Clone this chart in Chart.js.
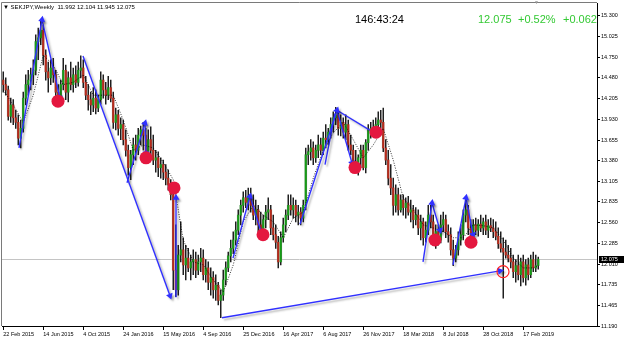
<!DOCTYPE html>
<html>
<head>
<meta charset="utf-8">
<script src="https://cdn.jsdelivr.net/npm/chart.js@4"></script>
<style>
  html, body { margin: 0; padding: 0; background: #fff; }
  #wrap { position: relative; width: 625px; height: 340px; overflow: hidden; }
  #c { position: absolute; left: 0; top: 0; }
  .t { position: absolute; font-family: "Liberation Sans", Arial, sans-serif; white-space: pre; line-height: 1; }
</style>
</head>
<body>
<div id="wrap">
  <canvas id="c" width="625" height="340"></canvas>
  <div class="t" style="left:3px;top:4px;font-size:6px;color:#000;">▼ SEKJPY,Weekly  11.992 12.104 11.945 12.075</div>
  <div class="t" style="left:534px;top:0px;font-size:5px;color:#999;">▼</div>
  <div class="t" style="left:355px;top:14px;font-size:11px;color:#000;">146:43:24</div>
  <div class="t" style="left:478px;top:14px;font-size:11px;color:#33c933;">12.075</div>
  <div class="t" style="left:518px;top:14px;font-size:11px;color:#33c933;">+0.52%</div>
  <div class="t" style="left:563px;top:14px;font-size:11px;color:#33c933;">+0.062</div>
</div>
<script>
// weekly SEKJPY candles, 22 Feb 2015 onwards (one entry per week)
const opens = [
  14.45,14.39,14.32,13.97,14.12,13.95,13.89,13.68,13.81,14.21,
  14.39,14.45,14.52,14.58,14.96,15.01,15.11,14.78,14.56,14.48,
  14.61,14.52,14.29,14.21,14.39,14.58,14.29,14.48,14.39,14.52,
  14.42,14.58,14.61,14.42,14.25,14.19,14.12,14.21,14.08,14.19,
  14.45,14.32,14.25,14.35,14.21,13.89,13.99,13.81,13.86,13.66,
  13.52,13.29,13.46,13.59,13.52,13.72,13.79,13.72,13.46,13.66,
  13.52,13.39,13.42,13.29,13.33,13.23,13.15,13.06,12.93,11.93,
  11.67,12.13,12.20,12.00,12.09,11.96,12.04,12.07,11.93,12.04,
  12.09,11.87,11.96,11.77,11.83,11.67,11.73,11.53,11.60,11.80,
  11.96,12.12,12.22,12.33,12.46,12.66,12.79,12.89,12.83,12.91,
  12.79,12.66,12.73,12.53,12.46,12.60,12.70,12.73,12.49,12.40,
  12.30,12.04,12.36,12.53,12.66,12.79,12.73,12.79,12.66,12.70,
  12.62,12.79,13.46,13.50,13.55,13.42,13.52,13.59,13.52,13.68,
  13.66,13.76,13.86,13.95,13.99,13.81,13.89,13.76,13.86,13.59,
  13.52,13.36,13.33,13.42,13.52,13.29,13.62,13.79,13.81,13.79,
  13.86,13.92,13.89,13.55,13.39,13.15,13.02,12.79,12.93,12.73,
  12.86,12.76,12.82,12.70,12.73,12.60,12.66,12.49,12.57,12.36,
  12.46,12.66,12.57,12.36,12.44,12.33,12.53,12.60,12.44,12.40,
  12.20,12.09,12.20,12.33,12.40,12.66,12.73,12.49,12.36,12.53,
  12.46,12.54,12.49,12.57,12.46,12.52,12.49,12.44,12.38,12.28,
  12.22,12.17,12.13,12.09,12.04,11.91,11.99,11.87,12.04,11.83,
  12.00,11.87,12.07,11.96,11.992
];
const highs = [
  14.56,14.48,14.37,14.21,14.19,14.05,13.99,13.92,14.29,14.52,
  14.58,14.61,14.72,15.05,15.14,15.25,15.18,14.85,14.69,14.72,
  14.74,14.58,14.39,14.45,14.74,14.65,14.56,14.69,14.61,14.64,
  14.69,14.77,14.72,14.50,14.39,14.29,14.35,14.32,14.25,14.56,
  14.52,14.42,14.50,14.45,14.29,14.08,14.05,13.95,13.92,13.79,
  13.59,13.52,13.68,13.72,13.81,13.84,13.89,13.81,13.79,13.83,
  13.72,13.52,13.50,13.42,13.39,13.33,13.26,13.13,12.99,12.53,
  12.26,12.57,12.36,12.26,12.22,12.13,12.20,12.17,12.13,12.22,
  12.20,12.07,12.04,11.96,11.91,11.87,11.77,11.67,11.93,12.04,
  12.17,12.33,12.44,12.57,12.73,12.86,12.97,12.99,13.02,13.02,
  12.93,12.86,12.79,12.70,12.66,12.79,12.89,12.79,12.66,12.53,
  12.38,12.44,12.62,12.73,12.93,12.93,12.89,12.86,12.79,12.76,
  12.86,13.55,13.59,13.66,13.63,13.59,13.72,13.68,13.76,13.86,
  13.81,13.95,14.03,14.09,14.05,13.99,13.95,13.99,13.92,13.72,
  13.59,13.52,13.46,13.59,13.59,13.66,13.86,13.89,13.92,13.95,
  14.03,14.05,14.08,13.66,13.52,13.33,13.15,13.06,13.02,12.93,
  12.93,12.89,12.91,12.86,12.79,12.76,12.73,12.66,12.62,12.57,
  12.79,12.79,12.66,12.53,12.53,12.66,12.70,12.66,12.53,12.49,
  12.33,12.26,12.44,12.53,12.73,12.89,12.79,12.60,12.60,12.62,
  12.60,12.66,12.62,12.66,12.60,12.62,12.60,12.57,12.49,12.44,
  12.36,12.33,12.26,12.22,12.13,12.07,12.13,12.09,12.13,12.07,
  12.09,12.13,12.17,12.13,12.104
];
const lows = [
  14.29,14.25,13.92,13.89,13.86,13.81,13.59,13.55,13.76,14.12,
  14.25,14.32,14.39,14.52,14.72,14.92,14.65,14.45,14.29,14.39,
  14.42,14.21,14.11,14.13,14.32,14.19,14.16,14.32,14.29,14.35,
  14.37,14.48,14.35,14.19,14.05,13.99,14.03,14.00,14.03,14.13,
  14.21,14.13,14.19,14.16,13.81,13.79,13.72,13.66,13.59,13.44,
  13.19,13.13,13.33,13.39,13.46,13.59,13.52,13.36,13.39,13.42,
  13.33,13.23,13.17,13.15,13.13,13.06,12.99,12.86,11.67,11.58,
  11.60,12.04,11.87,11.80,11.91,11.80,11.87,11.83,11.87,11.91,
  11.80,11.77,11.67,11.60,11.56,11.53,11.47,11.30,11.53,11.73,
  11.91,12.04,12.15,12.26,12.40,12.53,12.70,12.76,12.73,12.70,
  12.60,12.53,12.44,12.36,12.33,12.49,12.60,12.40,12.33,12.22,
  11.96,12.00,12.30,12.44,12.60,12.66,12.62,12.57,12.53,12.53,
  12.57,12.73,13.33,13.39,13.33,13.36,13.42,13.46,13.46,13.55,
  13.59,13.68,13.76,13.86,13.72,13.71,13.68,13.66,13.52,13.46,
  13.26,13.23,13.19,13.29,13.26,13.22,13.52,13.68,13.72,13.71,
  13.76,13.81,13.50,13.33,13.06,12.93,12.66,12.70,12.66,12.70,
  12.66,12.62,12.66,12.57,12.49,12.53,12.40,12.33,12.26,12.30,
  12.40,12.49,12.26,12.22,12.26,12.29,12.44,12.36,12.30,12.13,
  11.99,12.04,12.13,12.26,12.33,12.57,12.40,12.26,12.30,12.40,
  12.38,12.44,12.40,12.40,12.36,12.44,12.36,12.33,12.22,12.17,
  11.56,12.09,12.04,11.96,11.83,11.77,11.80,11.72,11.77,11.73,
  11.80,11.83,11.91,11.91,11.945
];
const closes = [
  14.39,14.32,13.97,14.12,13.95,13.89,13.68,13.81,14.21,14.39,
  14.45,14.52,14.58,14.96,15.01,15.11,14.78,14.56,14.48,14.61,
  14.52,14.29,14.21,14.39,14.58,14.29,14.48,14.39,14.52,14.42,
  14.58,14.61,14.42,14.25,14.19,14.12,14.21,14.08,14.19,14.45,
  14.32,14.25,14.35,14.21,13.89,13.99,13.81,13.86,13.66,13.52,
  13.29,13.46,13.59,13.52,13.72,13.79,13.72,13.46,13.66,13.52,
  13.39,13.42,13.29,13.33,13.23,13.15,13.06,12.93,11.93,11.67,
  12.13,12.20,12.00,12.09,11.96,12.04,12.07,11.93,12.04,12.09,
  11.87,11.96,11.77,11.83,11.67,11.73,11.53,11.60,11.80,11.96,
  12.12,12.22,12.33,12.46,12.66,12.79,12.89,12.83,12.91,12.79,
  12.66,12.73,12.53,12.46,12.60,12.70,12.73,12.49,12.40,12.30,
  12.04,12.36,12.53,12.66,12.79,12.73,12.79,12.66,12.70,12.62,
  12.79,13.46,13.50,13.55,13.42,13.52,13.59,13.52,13.68,13.66,
  13.76,13.86,13.95,13.99,13.81,13.89,13.76,13.86,13.59,13.52,
  13.36,13.33,13.42,13.52,13.29,13.62,13.79,13.81,13.79,13.86,
  13.92,13.89,13.55,13.39,13.15,13.02,12.79,12.93,12.73,12.86,
  12.76,12.82,12.70,12.73,12.60,12.66,12.49,12.57,12.36,12.46,
  12.66,12.57,12.36,12.44,12.33,12.53,12.60,12.44,12.40,12.20,
  12.09,12.20,12.33,12.40,12.66,12.73,12.49,12.36,12.53,12.46,
  12.54,12.49,12.57,12.46,12.52,12.49,12.44,12.38,12.28,12.22,
  12.17,12.13,12.09,12.04,11.91,11.99,11.87,12.04,11.83,12.00,
  11.87,12.07,11.96,11.99,12.075
];

// dotted moving average, read at a few weeks
const maWeeks  = [0,4,8,12,16,20,24,28,32,36,40,44,48,52,56,60,64,68,72,76,80,84,88,92,96,100,104,108,112,116,120,124,128,132,136,140,144,148,152,156,160,164,168,172,176,180,184,188,192,196,200,204,208,212,214];
const maValues = [14.32,14.12,13.89,14.25,14.78,14.65,14.39,14.42,14.52,14.25,14.25,14.25,13.92,13.52,13.59,13.55,13.36,13.13,12.33,12.04,12.00,11.80,11.64,12.00,12.57,12.79,12.66,12.57,12.36,12.62,12.70,13.15,13.52,13.75,13.89,13.66,13.42,13.59,13.81,13.39,12.89,12.73,12.53,12.49,12.44,12.36,12.36,12.53,12.52,12.49,12.33,12.09,11.96,11.96,11.99];

// hand-drawn trend arrows (week, price)
const arrowFrom = [[6.3,13.55],[15.5,15.25],[31.9,14.77],[49.5,13.09],[56.7,13.88],[69.1,11.57],[87.5,11.30],[91.9,12.09],[98.7,12.91],[118.7,12.54],[128.7,13.33],[133.5,14.05],[133.5,14.05],[167.9,12.04],[171.5,12.82],[179.9,12.00],[185.1,12.89]];
const arrowTo   = [[15.5,15.25],[22.7,14.21],[66.7,11.59],[56.7,13.88],[57.1,13.48],[69.1,12.89],[198.7,11.92],[98.7,12.91],[103.5,12.40],[133.5,14.05],[132.7,14.01],[139.5,13.35],[147.9,13.76],[171.5,12.82],[174.7,12.46],[185.1,12.89],[187.9,12.40]];
const arrowHead = [1,1,1,1,1,1,1,1,1,1,0,1,1,1,1,1,1];

// red signal dots and the open circle
const signalWeeks  = [21.9,57.1,68.3,103.9,140.7,149.1,172.7,187.1];
const signalPrices = [14.17,13.42,13.02,12.40,13.29,13.76,12.33,12.30];
const openSignal = [199.9, 11.91];

const tickWeeks  = [0,16,32,48,64,80,96,112,128,144,160,176,192,208];
const tickLabels = ['22 Feb 2015','14 Jun 2015','4 Oct 2015','24 Jan 2016','15 May 2016','4 Sep 2016','25 Dec 2016','16 Apr 2017','6 Aug 2017','26 Nov 2017','18 Mar 2018','8 Jul 2018','28 Oct 2018','17 Feb 2019'];
const priceTicks = [15.300,15.025,14.750,14.480,14.205,13.930,13.655,13.380,13.105,12.835,12.560,12.285,12.010,11.735,11.465,11.190];
const bidPrice = 12.075;

const FONT = '"Liberation Sans", Arial, sans-serif';
const UP = '#169c16', DOWN = '#b82a1a', BLUE = '#3030ff', DOT = '#e4173f';

const wicks = closes.map((c, i) => ({ x: i, y: [lows[i], highs[i]] }));
const bodies = closes.map((c, i) => ({ x: i, y: [opens[i], c] }));
const bodyColors = closes.map((c, i) => c >= opens[i] ? UP : DOWN);

const arrowSets = arrowFrom.map((f, k) => ({
  type: 'line',
  data: [{ x: f[0], y: f[1] }, { x: arrowTo[k][0], y: arrowTo[k][1] }],
  borderColor: BLUE,
  borderWidth: 1.4,
  backgroundColor: BLUE,
  pointStyle: 'triangle',
  pointRadius: ctx => (ctx.dataIndex === 1 && arrowHead[k]) ? 4 : 0,
  pointBorderWidth: 0,
  pointBackgroundColor: BLUE,
  pointRotation: ctx => {
    const d = ctx.dataset.data, xs = ctx.chart.scales.x, ys = ctx.chart.scales.y;
    const dx = xs.getPixelForValue(d[1].x) - xs.getPixelForValue(d[0].x);
    const dy = ys.getPixelForValue(d[1].y) - ys.getPixelForValue(d[0].y);
    return Math.atan2(dx, -dy) * 180 / Math.PI;
  },
  tension: 0,
  shadow: true,
  order: 1
}));

const overlay = {
  id: 'overlay',
  beforeDatasetsDraw(chart) {
    const { ctx, chartArea: a, scales: { y } } = chart;
    const py = Math.round(y.getPixelForValue(bidPrice)) + 0.5;
    ctx.save();
    ctx.lineWidth = 1;
    ctx.strokeStyle = '#c4c4c4';
    ctx.beginPath(); ctx.moveTo(a.left, py); ctx.lineTo(a.right, py); ctx.stroke();
    ctx.strokeStyle = '#7a7a7a';
    ctx.beginPath(); ctx.moveTo(a.left - 0.5, a.bottom); ctx.lineTo(a.left - 0.5, a.top - 0.5); ctx.lineTo(a.right, a.top - 0.5); ctx.stroke();
    ctx.restore();
  },
  beforeDatasetDraw(chart, args) {
    if (!chart.data.datasets[args.index].shadow) return;
    const ctx = chart.ctx;
    ctx.save();
    ctx.shadowColor = 'rgba(0,0,0,0.3)';
    ctx.shadowOffsetX = 2;
    ctx.shadowOffsetY = 2;
    ctx.shadowBlur = 2;
  },
  afterDatasetDraw(chart, args) {
    if (chart.data.datasets[args.index].shadow) chart.ctx.restore();
  },
  afterDraw(chart) {
    const { ctx, chartArea: a, scales: { y } } = chart;
    const py = y.getPixelForValue(bidPrice);
    ctx.save();
    ctx.fillStyle = '#000';
    ctx.fillRect(a.right + 2, Math.round(py) - 3, 25, 7);
    ctx.fillStyle = '#fff';
    ctx.font = '5.5px ' + FONT;
    ctx.textBaseline = 'middle';
    ctx.fillText(bidPrice.toFixed(3), a.right + 4, Math.round(py) + 0.5);
    ctx.restore();
  }
};

new Chart(document.getElementById('c'), {
  type: 'bar',
  data: {
    datasets: [
      {
        type: 'scatter',
        data: signalWeeks.map((w, i) => ({ x: w, y: signalPrices[i] })),
        pointRadius: 6.5,
        pointBackgroundColor: DOT,
        pointBorderWidth: 0,
        order: 0
      },
      {
        type: 'scatter',
        data: [{ x: openSignal[0], y: openSignal[1] }],
        pointRadius: 6,
        pointBackgroundColor: 'rgba(0,0,0,0)',
        pointBorderColor: '#ff2020',
        pointBorderWidth: 1.2,
        order: 0
      },
      ...arrowSets,
      {
        type: 'line',
        data: maWeeks.map((w, i) => ({ x: w, y: maValues[i] })),
        borderColor: '#000',
        borderWidth: 0.8,
        borderDash: [1, 1.5],
        pointRadius: 0,
        tension: 0,
        order: 2
      },
      {
        data: bodies,
        backgroundColor: bodyColors,
        barThickness: 1.4,
        minBarLength: 1,
        grouped: false,
        order: 3
      },
      {
        data: wicks,
        backgroundColor: '#1a1a1a',
        barThickness: 0.8,
        grouped: false,
        order: 4
      },
      {
        data: bodies,
        backgroundColor: '#cccccc',
        barThickness: 2.2,
        minBarLength: 1,
        grouped: false,
        order: 5
      }
    ]
  },
  options: {
    responsive: false,
    animation: false,
    events: [],
    layout: { autoPadding: false, padding: { left: 2, top: 3, right: 0, bottom: 0 } },
    plugins: { legend: { display: false }, tooltip: { enabled: false } },
    scales: {
      x: {
        type: 'linear',
        offset: false,
        min: -0.5,
        max: 237.5,
        afterFit: s => { s.height = 14; s.paddingLeft = 0; s.paddingRight = 0; },
        afterBuildTicks: s => { s.ticks = tickWeeks.map(v => ({ value: v })); },
        ticks: {
          align: 'start',
          maxRotation: 0,
          autoSkip: false,
          padding: 1,
          color: '#000',
          font: { family: FONT, size: 5.5 },
          callback: v => tickLabels[tickWeeks.indexOf(v)]
        },
        grid: { offset: false, drawOnChartArea: false, tickLength: 4, color: '#000' },
        border: { color: '#000', width: 1 }
      },
      y: {
        position: 'right',
        min: 11.19,
        max: 15.472,
        afterFit: s => { s.width = 28; s.paddingTop = 0; s.paddingBottom = 0; },
        afterBuildTicks: s => { s.ticks = priceTicks.map(v => ({ value: v })); },
        ticks: {
          padding: 1,
          color: '#000',
          font: { family: FONT, size: 5.5 },
          callback: v => v.toFixed(3)
        },
        grid: { drawOnChartArea: false, tickLength: 3, color: '#000' },
        border: { color: '#000', width: 1 }
      }
    }
  },
  plugins: [overlay]
});
</script>
</body>
</html>
